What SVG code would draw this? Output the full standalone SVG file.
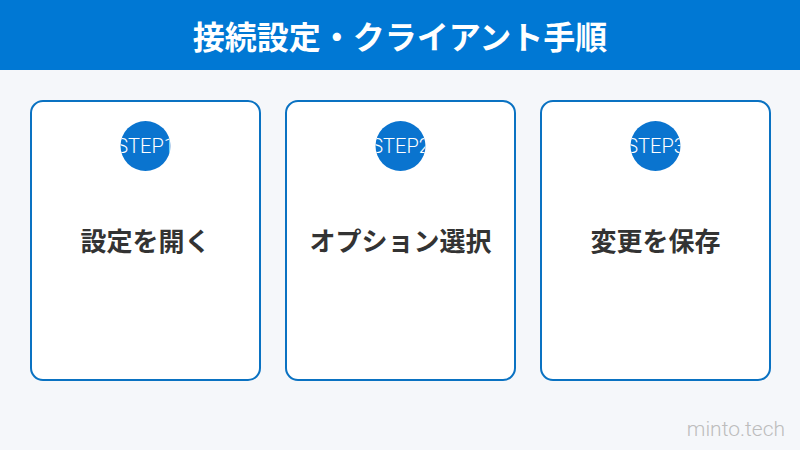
<svg xmlns="http://www.w3.org/2000/svg" width="800" height="450" viewBox="0 0 800 450">
<style>
.card{fill:#ffffff;stroke:#0a72c2;stroke-width:2}
.badge{fill:#0a74cf}
.step{font-family:Roboto,"Noto Sans",sans-serif;font-size:20px;font-weight:300;fill:#ffffff;text-anchor:middle}
.label{font-family:"Noto Sans CJK JP",sans-serif;font-size:26px;font-weight:700;fill:#333333;text-anchor:middle}
</style>
<defs>
<clipPath id="c1"><circle cx="145.5" cy="146" r="25"/></clipPath>
<clipPath id="c2"><circle cx="400.5" cy="146" r="25"/></clipPath>
<clipPath id="c3"><circle cx="655.5" cy="146" r="25"/></clipPath>
</defs>
<rect width="800" height="450" fill="#f5f7fa"/>
<g id="header">
<rect x="0" y="0" width="800" height="70" fill="#0078d4"/>
<text x="400" y="49" font-family="'Noto Sans CJK JP',sans-serif" font-size="32" font-weight="700" fill="#ffffff" text-anchor="middle">接続設定・クライアント手順</text>
</g>
<g id="step1">
<rect class="card" x="31" y="101" width="229" height="279" rx="12"/>
<circle class="badge" cx="145.5" cy="146" r="25"/>
<text class="step" x="145.5" y="153" clip-path="url(#c1)">STEP1</text>
<text class="label" x="145.5" y="251">設定を開く</text>
</g>
<g id="step2">
<rect class="card" x="286" y="101" width="229" height="279" rx="12"/>
<circle class="badge" cx="400.5" cy="146" r="25"/>
<text class="step" x="400.5" y="153" clip-path="url(#c2)">STEP2</text>
<text class="label" x="400.5" y="251">オプション選択</text>
</g>
<g id="step3">
<rect class="card" x="541" y="101" width="229" height="279" rx="12"/>
<circle class="badge" cx="655.5" cy="146" r="25"/>
<text class="step" x="655.5" y="153" clip-path="url(#c3)">STEP3</text>
<text class="label" x="655.5" y="251">変更を保存</text>
</g>
<g id="connectors"/>
<text x="785" y="436" font-family="Roboto,'Noto Sans',sans-serif" font-size="21" font-weight="300" fill="#bdbdbd" text-anchor="end">minto.tech</text>
</svg>
